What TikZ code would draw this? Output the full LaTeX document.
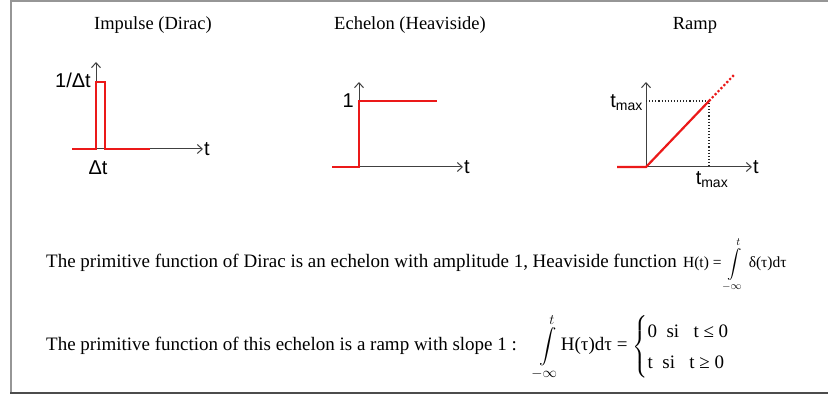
\documentclass[tikz,border=0pt]{standalone}
\usepackage{amsmath}
\usepackage{fontspec}
\setmainfont{Liberation Serif}
\newfontfamily\labelfont{Liberation Sans}
\usetikzlibrary{arrows.meta, positioning}
\definecolor{sigred}{RGB}{235, 25, 25}
\definecolor{framegray}{RGB}{150, 150, 150}

\begin{document}
\begin{tikzpicture}[
    x=1pt, y=-1pt, % pixel-like grid, y pointing down
    axis/.style={draw=black!75, line width=1pt, -{Straight Barb[length=5pt, width=9pt]}},
    signal/.style={draw=sigred, line width=2.2pt},
    guide/.style={draw=black!85, line width=1.1pt, dotted},
    title/.style={font=\fontsize{18.5}{22}\selectfont},
    lbl/.style={font=\labelfont\fontsize{20}{22}\selectfont, inner sep=1pt},
    body/.style={font=\fontsize{19}{22}\selectfont, anchor=base west, inner sep=0pt},
]
\useasboundingbox (0,0) rectangle (828,398);

% Frame
\draw[framegray, line width=1.5pt] (11,393) -- (11,1) -- (828,1);
\draw[black!70, line width=2.5pt] (10,393) -- (828,393);

% Impulse (Dirac)
\node[title] (tImp) at (153,25) {Impulse (Dirac)};
\coordinate (s1) at (72,149);
\coordinate (o1) at (96,149);
\coordinate (x1) at (203,149);
\coordinate (y1) at (96,62);
\draw[axis] (s1) -- (x1);
\draw[axis] (o1) -- (y1);
\draw[signal] (s1) -- (o1) -- ++(0,-67) -- ++(9,0) -- ++(0,67) -- ++(45,0);
\node[lbl, anchor=east] (hImp) at (92,80) {1/Δt};
\node[lbl] (wImp) at (98,168) {Δt};
\node[lbl, anchor=west] (tx1) at (x1) {t};

% Echelon (Heaviside)
\node[title] (tEch) at (410,25) {Echelon (Heaviside)};
\coordinate (s2) at (332,167);
\coordinate (o2) at (359,167);
\coordinate (x2) at (463,167);
\coordinate (y2) at (359,82);
\draw[axis] (o2) -- (x2);
\draw[axis] (o2) -- (y2);
\draw[signal] (s2) -- (o2) -- ++(0,-66) -- (437,101);
\node[lbl, anchor=east] (hEch) at (355,101) {1};
\node[lbl, anchor=west] (tx2) at (x2) {t};

% Ramp
\node[title] (tRamp) at (695,25) {Ramp};
\coordinate (s3) at (617,167);
\coordinate (o3) at (646,167);
\coordinate (x3) at (752,167);
\coordinate (y3) at (646,82);
\coordinate (m3) at (709,101);
\coordinate (e3) at (734,75);
\draw[axis] (o3) -- (x3);
\draw[axis] (o3) -- (y3);
\draw[guide] (o3 |- m3) -- (m3) -- (m3 |- o3);
\draw[signal] (s3) -- (o3) -- (m3);
\draw[signal, dotted] (m3) -- (e3);
\node[lbl, anchor=east] (hRamp) at (644,103) {t\textsubscript{max}};
\node[lbl] (wRamp) at (712,180) {t\textsubscript{max}};
\node[lbl, anchor=west] (tx3) at (x3) {t};

% Text
\node[body] (line1) at (46,268) {The primitive function of Dirac is an echelon with amplitude 1, Heaviside function};
\node[body, font=\fontsize{15.5}{18}\selectfont, xshift=6pt] (heav) at (line1.base east)
  {H(t) = $\displaystyle\int\limits_{-\infty}^{t}$ δ(τ)dτ};
\node[body] (line2) at (46,351) {The primitive function of this echelon is a ramp with slope 1 :};
\node[body, xshift=18pt] (ramp) at (line2.base east)
  {$\displaystyle\int\limits_{-\infty}^{t}$H(τ)dτ = $\left\{\renewcommand{\arraystretch}{1.4}\begin{array}{@{}l@{}}
     \text{0 \ si \ \ t ≤ 0}\\ \text{t \ si \ \ t ≥ 0}\end{array}\right.$};

\end{tikzpicture}
\end{document}
